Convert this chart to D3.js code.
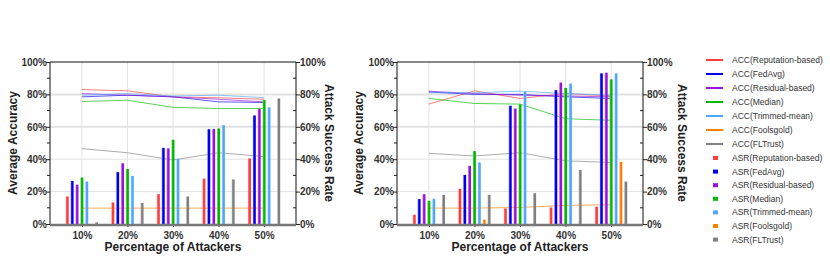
<!DOCTYPE html>
<html>
<head>
<meta charset="utf-8">
<script src="https://cdn.jsdelivr.net/npm/d3@7"></script>
<style>
  body { margin: 0; background: #fff; }
  svg { font-family: "Liberation Sans", Arial, sans-serif; }
</style>
</head>
<body>
<div id="chart-area"></div>
<script>
// data
var categories = ["10%", "20%", "30%", "40%", "50%"]
var methods = ["Reputation-based", "FedAvg", "Residual-based", "Median", "Trimmed-mean", "Foolsgold", "FLTrust"]
var colors = ["#ff3b3b", "#0000ee", "#9a10e0", "#00b800", "#4ea6ff", "#ff8000", "#808080"]
var yTicks = [0, 20, 40, 60, 80, 100]

// left panel: accuracy lines, attack success bars
var accLeft = [
  [83, 82.2, 78.5, 77.9, 77],
  [78.5, 79.5, 78.5, 75.4, 75],
  [80.5, 79.5, 78.5, 77, 75.4],
  [75.6, 76.4, 72, 71.3, 71.3],
  [79.5, 80.5, 79, 79.5, 78],
  [9.8, 9.8, 9.8, 9.8, 9.8],
  [46.5, 44, 39.5, 44, 41.6]
]
var asrLeft = [
  [17, 13.3, 18.4, 28, 40.5],
  [26.6, 32, 47, 58.5, 67],
  [24.3, 37.5, 46.7, 58.7, 71],
  [28.7, 34, 52, 59, 76.5],
  [26.2, 29.7, 40.3, 61, 72],
  [0, 0, 0, 0, 0],
  [1, 13, 17, 27.5, 77.5]
]

// right panel
var accRight = [
  [74, 82.2, 77.5, 80.5, 79],
  [81.5, 80, 80, 78.5, 77.5],
  [82, 80.5, 79.5, 79, 78.5],
  [77.5, 74.4, 74, 65, 64],
  [81, 81, 82, 80.5, 79.5],
  [9.8, 9.8, 10.2, 11.5, 11.9],
  [43.6, 42, 44, 39, 38]
]
var asrRight = [
  [5.7, 21.7, 9.6, 10.2, 10.7],
  [15.4, 30.3, 73, 82.6, 93],
  [18.4, 35.9, 71.3, 87.3, 93.4],
  [14.3, 45, 73.8, 84, 89.3],
  [15.6, 38, 81.6, 86.7, 93],
  [0, 2.7, 0, 0, 38.3],
  [18, 18, 19, 33.4, 26.2]
]

var svg = d3.select("#chart-area").append("svg")
  .attr("width", 830)
  .attr("height", 280)

// lighter left edge on bars
var defs = svg.append("defs")
colors.forEach(function(c, i) {
  var grad = defs.append("linearGradient")
    .attr("id", "bar" + i)
    .attr("x1", "0%").attr("x2", "100%")
  grad.append("stop").attr("offset", "0%").attr("stop-color", d3.interpolateRgb(c, "#fff")(0.45))
  grad.append("stop").attr("offset", "40%").attr("stop-color", c)
  grad.append("stop").attr("offset", "100%").attr("stop-color", c)
})

var height = 162
var width = 246

function drawPanel(left, top, acc, asr, leftTitleX, rightTitleX) {
  var g = svg.append("g")
    .attr("transform", "translate(" + left + "," + top + ")")

  var x = d3.scalePoint()
    .domain(categories)
    .range([0, width])
    .padding(0.7)

  var xSub = d3.scaleBand()
    .domain(d3.range(methods.length))
    .range([-16.1, 16.1])
    .paddingInner(0.4)

  var y = d3.scaleLinear()
    .domain([0, 100])
    .range([height, 0])

  // grid
  g.selectAll(".hgrid")
    .data([20, 40, 60, 80])
    .enter().append("line")
    .attr("x1", 0).attr("x2", width)
    .attr("y1", function(d) { return y(d) })
    .attr("y2", function(d) { return y(d) })
    .attr("stroke", "#e2e2e2")
    .attr("stroke-width", function(d) { return d >= 60 ? 2 : 1 })

  g.selectAll(".vgrid")
    .data(categories)
    .enter().append("line")
    .attr("x1", function(d) { return x(d) })
    .attr("x2", function(d) { return x(d) })
    .attr("y1", 0).attr("y2", height)
    .attr("stroke", "#e2e2e2")

  // accuracy lines
  var line = d3.line()
    .x(function(d, i) { return x(categories[i]) })
    .y(function(d) { return y(d) })

  g.selectAll(".acc")
    .data(acc)
    .enter().append("path")
    .attr("d", line)
    .attr("fill", "none")
    .attr("stroke", function(d, i) { return colors[i] })
    .attr("stroke-opacity", 0.65)
    .attr("stroke-width", 1)

  // attack success bars
  methods.forEach(function(m, mi) {
    g.selectAll(".bar" + mi)
      .data(asr[mi])
      .enter().append("rect")
      .attr("x", function(d, i) { return x(categories[i]) + xSub(mi) })
      .attr("width", xSub.bandwidth())
      .attr("y", function(d) { return y(d) })
      .attr("height", function(d) { return height - y(d) })
      .attr("fill", "url(#bar" + mi + ")")
  })

  // axes
  var yAxisLeft = d3.axisLeft(y).tickValues(yTicks).tickSize(4)
    .tickFormat(function(d) { return d + "%" })
  var yAxisRight = d3.axisRight(y).tickValues(yTicks).tickSize(4)
    .tickFormat(function(d) { return d + "%" })
  var xAxis = d3.axisBottom(x).tickSize(3).tickPadding(5)

  var gl = g.append("g").call(yAxisLeft)
  var gr = g.append("g").attr("transform", "translate(" + width + ",0)").call(yAxisRight)
  var gx = g.append("g").attr("transform", "translate(0," + height + ")").call(xAxis)

  ;[gl, gr, gx].forEach(function(a) {
    a.selectAll("text")
      .attr("font-size", 10)
      .attr("font-weight", "bold")
      .attr("fill", "#333")
    a.selectAll("line").attr("stroke", "#222")
    a.selectAll(".domain").remove()
  })
  gl.selectAll("text").attr("x", -3)
  gr.selectAll("text").attr("x", 4)

  // minor ticks
  var minor = [10, 30, 50, 70, 90]
  g.selectAll(".minorL").data(minor).enter().append("line")
    .attr("x1", -3).attr("x2", 0)
    .attr("y1", function(d) { return y(d) }).attr("y2", function(d) { return y(d) })
    .attr("stroke", "#222")
  g.selectAll(".minorR").data(minor).enter().append("line")
    .attr("x1", width - 3).attr("x2", width)
    .attr("y1", function(d) { return y(d) }).attr("y2", function(d) { return y(d) })
    .attr("stroke", "#222")

  // frame
  g.append("line").attr("x1", 0).attr("x2", width).attr("y1", 0).attr("y2", 0).attr("stroke", "#111")
  g.append("line").attr("x1", 0).attr("x2", 0).attr("y1", 0).attr("y2", height).attr("stroke", "#111")
  g.append("line").attr("x1", width).attr("x2", width).attr("y1", 0).attr("y2", height).attr("stroke", "#111")
  g.append("line").attr("x1", 0).attr("x2", width).attr("y1", height + 1).attr("y2", height + 1)
    .attr("stroke", "#777").attr("stroke-width", 2.5)

  // titles
  g.append("text")
    .attr("transform", "translate(" + leftTitleX + "," + (height / 2) + ") rotate(-90)")
    .attr("text-anchor", "middle").attr("dy", "0.35em")
    .attr("font-size", 12).attr("font-weight", "bold").attr("fill", "#222")
    .text("Average Accuracy")
  g.append("text")
    .attr("transform", "translate(" + (width + rightTitleX) + "," + (height / 2) + ") rotate(90)")
    .attr("text-anchor", "middle").attr("dy", "0.35em")
    .attr("font-size", 12).attr("font-weight", "bold").attr("fill", "#222")
    .text("Attack Success Rate")
  g.append("text")
    .attr("x", width / 2).attr("y", height + 27)
    .attr("text-anchor", "middle")
    .attr("font-size", 12).attr("font-weight", "bold").attr("fill", "#222")
    .text("Percentage of Attackers")
}

drawPanel(50, 62, accLeft, asrLeft, -37, 33)
drawPanel(397, 62, accRight, asrRight, -38, 39)

// legend
var legend = svg.append("g")
methods.forEach(function(m, i) {
  legend.append("line")
    .attr("x1", 706).attr("x2", 723)
    .attr("y1", 60 + i * 14).attr("y2", 60 + i * 14)
    .attr("stroke", colors[i]).attr("stroke-width", 2)
  legend.append("text")
    .attr("x", 732).attr("y", 60 + i * 14).attr("dy", "0.35em")
    .attr("font-size", 8.5).attr("fill", "#333")
    .text("ACC(" + m + ")")
})
methods.forEach(function(m, i) {
  var yy = 158 + i * 13.6
  legend.append("rect")
    .attr("x", 713).attr("y", yy - 2).attr("width", 5).attr("height", 4)
    .attr("fill", colors[i])
  legend.append("text")
    .attr("x", 732).attr("y", yy).attr("dy", "0.35em")
    .attr("font-size", 8.5).attr("fill", "#333")
    .text("ASR(" + m + ")")
})
</script>
</body>
</html>
